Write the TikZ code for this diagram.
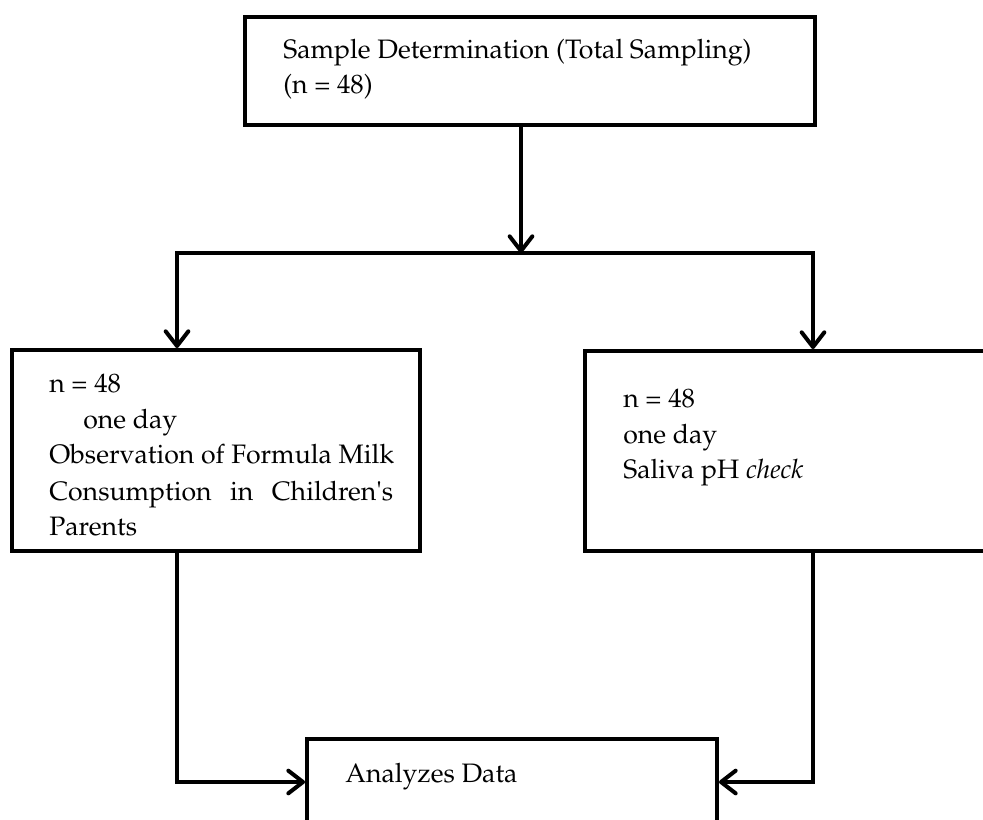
\documentclass[tikz,border=0pt]{standalone}
\usepackage[T1]{fontenc}
\usepackage{mathpazo}
\usepackage{textcomp}
\usetikzlibrary{arrows.meta}
\begin{document}
\begin{tikzpicture}[x=0.75pt,y=-0.75pt,
  box/.style={draw, line width=3pt, rectangle, inner sep=0pt},
  conn/.style={line width=3pt},
  arr/.style={conn, -{Straight Barb[length=11pt,width=17pt,round]}},
  txt/.style={anchor=base west, inner sep=0pt, font=\fontsize{20}{27}\selectfont}]
\useasboundingbox (0,0) rectangle (983,819);
\clip (0,0) rectangle (983,819);

% boxes
\node[box, minimum width=427.5pt, minimum height=81pt] (top) at (530,71) {};
\node[box, minimum width=306pt, minimum height=150.75pt] (lbox) at (216,450.5) {};
\node[box, minimum width=311.25pt, minimum height=150pt] (rbox) at (792.5,451) {};
\node[box, minimum width=307.5pt, minimum height=120.75pt] (bbox) at (512,819.5) {};

% helper coordinates
\coordinate (split) at (521,253);
\coordinate (sl) at (177,253);
\coordinate (sr) at (813,253);
\coordinate (ay) at (0,782);

% connectors
\draw[arr] (top.south -| split) -- (split);
\draw[arr] (split) -| (lbox.north -| sl);
\draw[arr] (split) -| (rbox.north -| sr);
\draw[arr] (lbox.south -| sl) |- (bbox.west |- ay);
\draw[arr] (rbox.south -| sr) |- (bbox.east |- ay);

% texts
\node[txt] (t1) at (283,58) {Sample Determination (Total Sampling)};
\node[txt] (t2) at (283,93) {(n = 48)};

\node[txt] (l1) at (49,392) {n = 48};
\node[txt] (l2) at (83,428) {one day};
\node[txt] (l3) at (49,463) {Observation of Formula Milk};
\node[txt] (l4) at (49,500) {\makebox[258pt][s]{Consumption in Children\textquotesingle s}};
\node[txt] (l5) at (49,535) {Parents};

\node[txt] (r1) at (623,407) {n = 48};
\node[txt] (r2) at (623,443) {one day};
\node[txt] (r3) at (623,478) {Saliva pH \textit{check}};

\node[txt] (b1) at (345,782) {Analyzes Data};
\end{tikzpicture}
\end{document}
